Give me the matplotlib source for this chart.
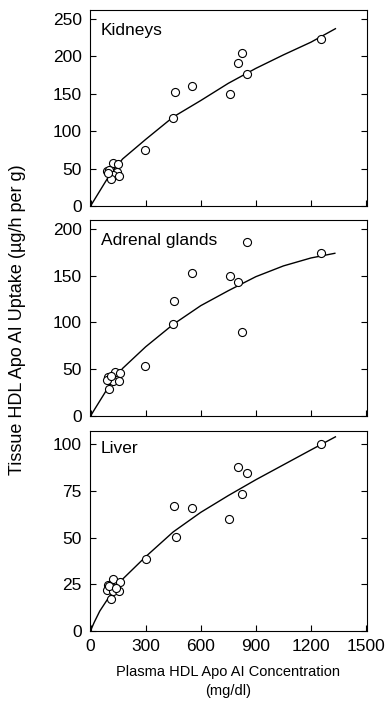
import matplotlib
matplotlib.use("Agg")
import matplotlib.pyplot as plt

plt.rcParams['font.family'] = ['Liberation Sans', 'DejaVu Sans']

# values (plasma HDL apo AI in mg/dl, uptake in ug/h per g)
kid_x = [1255, 824, 802, 851, 757, 551, 458, 448, 298,
         120, 151, 87, 101, 145, 123, 156, 114, 96]
kid_y = [223, 204, 191, 177, 150, 160, 152, 117, 75,
         58, 56, 47, 48, 46, 41, 40, 36, 44]
kid_fit_x = [0, 20, 50, 110, 175, 300, 450, 600, 750, 900, 1050, 1200, 1333]
kid_fit_y = [0, 8, 20, 44, 63, 89, 119, 141, 164, 184, 202, 219, 237]

adr_x = [1254, 851, 760, 803, 824, 551, 456, 447, 298,
         133, 96, 105, 160, 120, 156, 87, 100, 114]
adr_y = [174, 186, 150, 143, 89.5, 153, 123.5, 98.5, 54,
         47, 42, 39, 45.6, 37, 37, 38.5, 28.5, 43]
adr_fit_x = [0, 20, 50, 110, 175, 300, 450, 600, 750, 900, 1050, 1200, 1330]
adr_fit_y = [0, 6.5, 16, 35, 51, 74, 98, 118, 134, 149, 160.5, 169, 174]

liv_x = [1256, 803, 854, 825, 754, 452, 552, 463, 300,
         123, 160, 96, 114, 87, 123, 156, 114, 100, 140]
liv_y = [100, 88, 84.5, 73.5, 60, 67, 65.7, 50.4, 38.7,
         28, 26.3, 24.5, 23.6, 21.8, 21.5, 21.5, 17, 24, 23]
liv_fit_x = [0, 20, 50, 100, 175, 300, 450, 600, 750, 900, 1050, 1200, 1333]
liv_fit_y = [0, 4.5, 10.5, 18, 27.7, 39.7, 53, 63.5, 72.5, 81, 89, 97, 104]

names = ['Kidneys', 'Adrenal glands', 'Liver']
yticks = [[0, 50, 100, 150, 200, 250], [0, 50, 100, 150, 200], [0, 25, 50, 75, 100]]
ytops = [262, 209.6, 107.3]
xticks = [0, 300, 600, 900, 1200, 1500]

fig = plt.figure(figsize=(3.9, 7.13), dpi=100)
W, H = 390.0, 713.0
boxes = [(10, 206), (220, 416), (430.7, 630.7)]  # top, bottom in px

data = [(kid_x, kid_y, kid_fit_x, kid_fit_y),
        (adr_x, adr_y, adr_fit_x, adr_fit_y),
        (liv_x, liv_y, liv_fit_x, liv_fit_y)]

for i, (px, py, fx, fy) in enumerate(data):
    top, bot = boxes[i]
    ax = fig.add_axes([90 / W, 1 - bot / H, 277 / W, (bot - top) / H])
    ax.plot(fx, fy, color='black', lw=1.0, zorder=2)
    ax.plot(px, py, 'o', ms=5.8, mfc='white', mec='black', mew=0.8,
            linestyle='none', zorder=3)
    ax.set_xlim(-3, 1505)
    ax.set_ylim(0, ytops[i])
    ax.set_xticks(xticks)
    ax.set_yticks(yticks[i])
    ax.tick_params(direction='in', length=4, width=0.8, labelsize=12.5,
                   left=True, right=True, top=False, bottom=True, pad=6)
    if i < 2:
        ax.set_xticklabels([])
    for s in ax.spines.values():
        s.set_linewidth(0.8)
    ax.text(0.04, 0.95 if i == 2 else 0.935, names[i], transform=ax.transAxes,
            ha='left', va='top', fontsize=12.5)
    if i == 2:
        ax.set_xlabel('Plasma HDL Apo AI Concentration\n(mg/dl)', fontsize=10.5,
                      labelpad=8, linespacing=1.4)

fig.text(0.045, 0.551, 'Tissue HDL Apo AI Uptake (µg/h per g)', rotation=90,
         ha='center', va='center', fontsize=13)

fig.savefig('out.png', dpi=100)
